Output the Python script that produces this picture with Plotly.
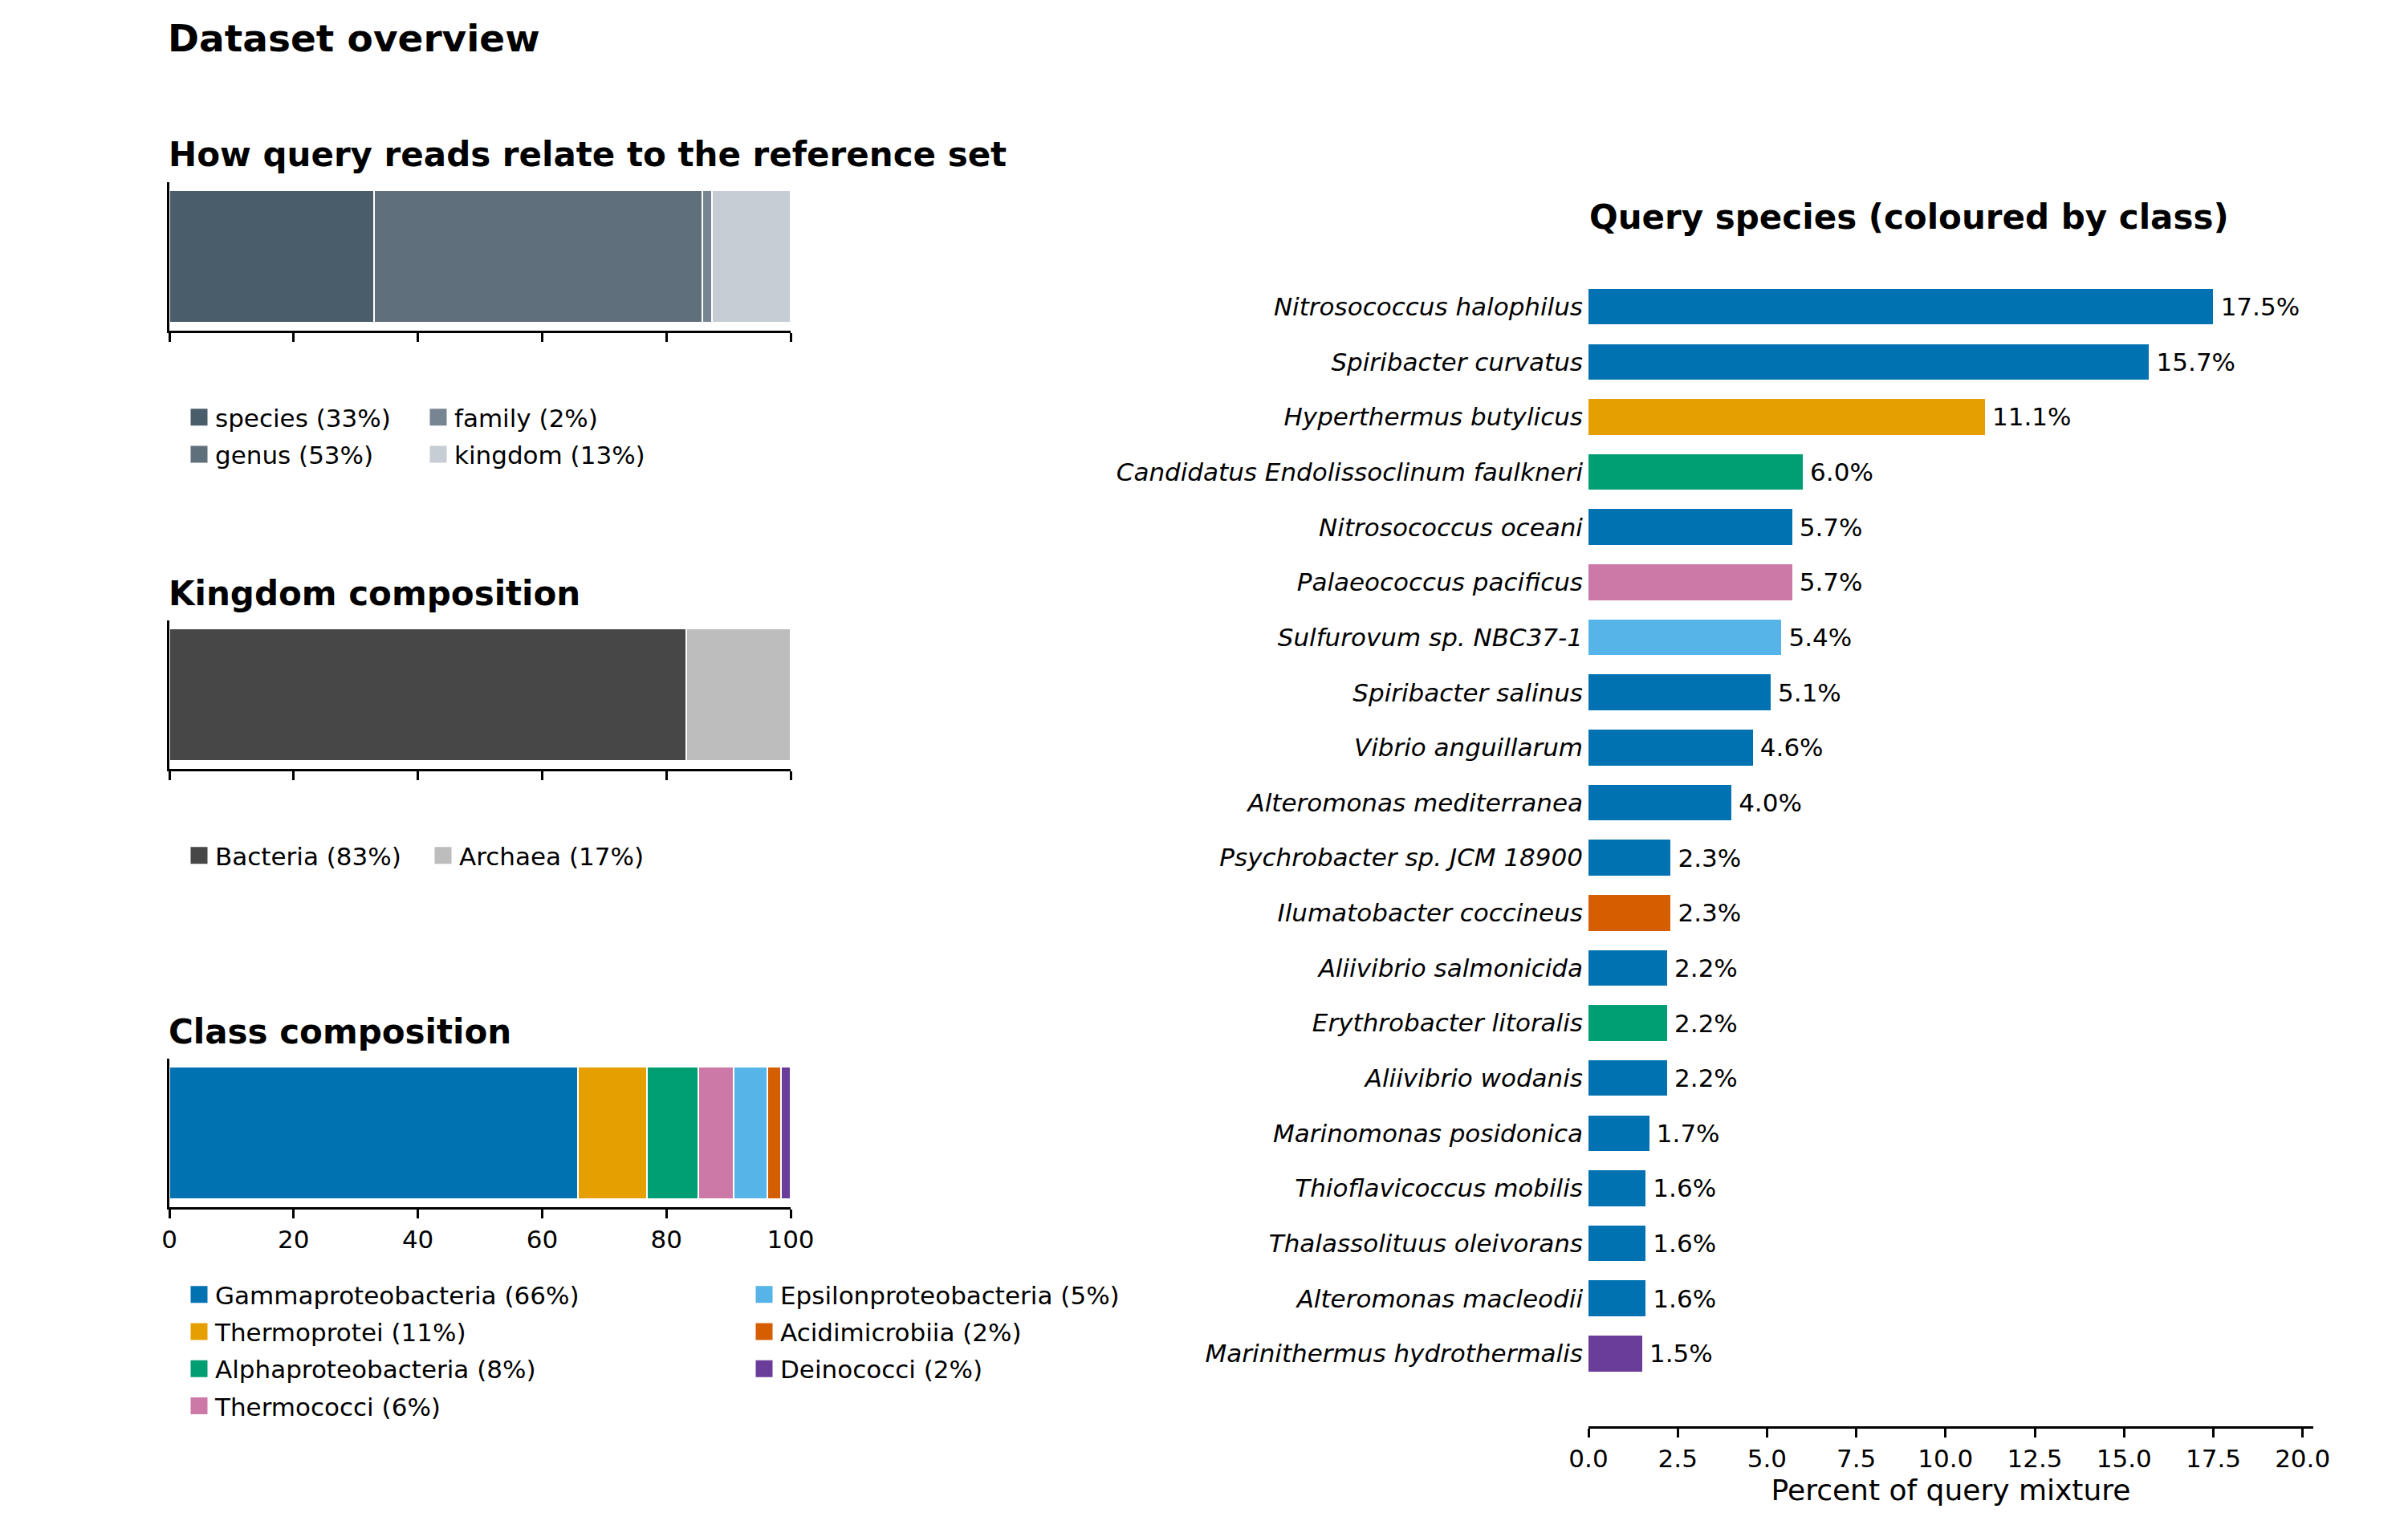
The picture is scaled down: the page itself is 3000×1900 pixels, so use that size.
import plotly.graph_objs as go

FONT = "DejaVu Sans"
W, H = 3000, 1900
OFFSET = 8  # the page body margin shifts the figure by this many pixels

# how query reads relate to the reference set
rank_names = ["species", "genus", "family", "kingdom"]
rank_values = [33.0, 52.8, 1.5, 12.7]
rank_colors = ["#4a5d6b", "#5f6f7b", "#778592", "#c6cdd4"]

# kingdom composition
kingdom_names = ["Bacteria", "Archaea"]
kingdom_values = [83.2, 16.8]
kingdom_colors = ["#474747", "#bdbdbd"]

# class composition
class_names = ["Gammaproteobacteria", "Thermoprotei", "Alphaproteobacteria",
               "Thermococci", "Epsilonproteobacteria", "Acidimicrobiia", "Deinococci"]
class_values = [65.8, 11.1, 8.2, 5.7, 5.4, 2.3, 1.5]
class_colors = ["#0072B2", "#E69F00", "#009E73", "#CC79A7", "#56B4E9", "#D55E00", "#6A3D9A"]

# query species
species_names = [
    "Nitrosococcus halophilus", "Spiribacter curvatus", "Hyperthermus butylicus",
    "Candidatus Endolissoclinum faulkneri", "Nitrosococcus oceani", "Palaeococcus pacificus",
    "Sulfurovum sp. NBC37-1", "Spiribacter salinus", "Vibrio anguillarum",
    "Alteromonas mediterranea", "Psychrobacter sp. JCM 18900", "Ilumatobacter coccineus",
    "Aliivibrio salmonicida", "Erythrobacter litoralis", "Aliivibrio wodanis",
    "Marinomonas posidonica", "Thioflavicoccus mobilis", "Thalassolituus oleivorans",
    "Alteromonas macleodii", "Marinithermus hydrothermalis",
]
species_values = [17.5, 15.7, 11.1, 6.0, 5.7, 5.7, 5.4, 5.1, 4.6, 4.0,
                  2.3, 2.3, 2.2, 2.2, 2.2, 1.7, 1.6, 1.6, 1.6, 1.5]
species_classes = [
    "Gammaproteobacteria", "Gammaproteobacteria", "Thermoprotei",
    "Alphaproteobacteria", "Gammaproteobacteria", "Thermococci",
    "Epsilonproteobacteria", "Gammaproteobacteria", "Gammaproteobacteria",
    "Gammaproteobacteria", "Gammaproteobacteria", "Acidimicrobiia",
    "Gammaproteobacteria", "Alphaproteobacteria", "Gammaproteobacteria",
    "Gammaproteobacteria", "Gammaproteobacteria", "Gammaproteobacteria",
    "Gammaproteobacteria", "Deinococci",
]


def px_x(p):
    return (p - OFFSET) / W


def px_y(p):
    return 1 - (p - OFFSET) / H


LEFT_X = [px_x(211), px_x(985)]
# (y line top, x line) in pixels for the three stacked panels
PANELS = [(227, 412), (773, 958), (1319, 1504)]
# legend tops and column x positions in pixels
LEGENDS = [(493, 228, 526), (1039, 228, 532), (1586, 228, 932)]


def add_stack(fig, idx, names, values, colors):
    ax = "" if idx == 0 else str(idx + 1)
    split = (len(names) + 1) // 2
    for n, v, c in zip(names, values, colors):
        fig.add_trace(go.Bar(
            x=[v], y=[0], orientation="h", width=0.8,
            marker=dict(color=c, line=dict(color="white", width=2)),
            showlegend=False, hoverinfo="x+name", name=n,
            xaxis="x" + ax, yaxis="y" + ax,
        ))
    # legend entries, split over two columns
    for i, (n, v, c) in enumerate(zip(names, values, colors)):
        num = 2 * idx + 1 + (i >= split)
        leg = "legend" if num == 1 else "legend" + str(num)
        fig.add_trace(go.Scatter(
            x=[None], y=[None], mode="markers",
            marker=dict(symbol="square", size=16, color=c, line=dict(color=c, width=5)),
            name="{} ({:.0f}%)".format(n, v), legend=leg, legendgroup=n,
            xaxis="x" + ax, yaxis="y" + ax, hoverinfo="skip",
        ))


fig = go.Figure()
add_stack(fig, 0, rank_names, rank_values, rank_colors)
add_stack(fig, 1, kingdom_names, kingdom_values, kingdom_colors)
add_stack(fig, 2, class_names, class_values, class_colors)

color_of = dict(zip(class_names, class_colors))
fig.add_trace(go.Bar(
    x=species_values, y=species_names, orientation="h", width=0.65,
    marker=dict(color=[color_of[c] for c in species_classes], line=dict(width=0)),
    texttemplate="\u2009%{x:.1f}%", textposition="outside", constraintext="none",
    textfont=dict(family=FONT, size=31, color="black"), cliponaxis=False,
    showlegend=False, xaxis="x4", yaxis="y4",
))

axis_common = dict(showgrid=False, zeroline=False, linecolor="black", linewidth=3)
tick_font = dict(family=FONT, size=31, color="black")

layout = dict(
    width=W, height=H, margin=dict(l=0, r=0, t=0, b=0),
    paper_bgcolor="white", plot_bgcolor="white", barmode="stack",
    font=dict(family=FONT, color="black"),
)

for idx, (top, bottom) in enumerate(PANELS):
    ax = "" if idx == 0 else str(idx + 1)
    layout["xaxis" + ax] = dict(
        axis_common, domain=LEFT_X, range=[0, 100], anchor="y" + ax,
        showline=True, ticks="outside", ticklen=11, tickwidth=2.5, tickcolor="black",
        tickvals=[0, 20, 40, 60, 80, 100], showticklabels=(idx == 2),
        tickfont=tick_font, automargin=False,
    )
    layout["yaxis" + ax] = dict(
        axis_common, domain=[px_y(bottom), px_y(top)], range=[-0.45, 0.45],
        anchor="x" + ax, showline=True, showticklabels=False, ticks="",
        automargin=False,
    )

layout["xaxis4"] = dict(
    axis_common, domain=[px_x(1979), px_x(2882)], range=[0, 20.3], anchor="y4",
    showline=True, ticks="outside", ticklen=11, tickwidth=2.5, tickcolor="black",
    tickvals=[0, 2.5, 5, 7.5, 10, 12.5, 15, 17.5, 20], tickformat=".1f",
    tickfont=tick_font, automargin=False,
    title=dict(text="Percent of query mixture", font=dict(family=FONT, size=36), standoff=10),
)
layout["yaxis4"] = dict(
    axis_common, domain=[px_y(1777), px_y(341)], type="category",
    categoryorder="array", categoryarray=species_names, range=[20.32, -0.6],
    anchor="x4", showline=False, ticks="", ticklabelstandoff=6,
    tickfont=dict(family=FONT, size=31, color="black", style="italic"),
    automargin=False,
)

for idx, (top, x1, x2) in enumerate(LEGENDS):
    for j, xx in enumerate((x1, x2)):
        n = 2 * idx + 1 + j
        key = "legend" if n == 1 else "legend" + str(n)
        layout[key] = dict(
            x=px_x(xx), y=px_y(top), xanchor="left", yanchor="top",
            orientation="v", bgcolor="rgba(0,0,0,0)", tracegroupgap=3,
            font=dict(family=FONT, size=31, color="black"),
        )

titles = [
    ("Dataset overview", 207, 47, 47),
    ("How query reads relate to the reference set", 208, 193, 42),
    ("Kingdom composition", 208, 739, 42),
    ("Class composition", 208, 1285, 42),
    ("Query species (coloured by class)", 1978, 270, 42),
]
layout["annotations"] = [
    dict(text="<b>{}</b>".format(t), x=px_x(x), y=px_y(y), xref="paper", yref="paper",
         xanchor="left", yanchor="middle", showarrow=False,
         font=dict(family=FONT, size=s, color="black"))
    for t, x, y, s in titles
]

fig.update_layout(layout)
fig.write_html("out.html")
